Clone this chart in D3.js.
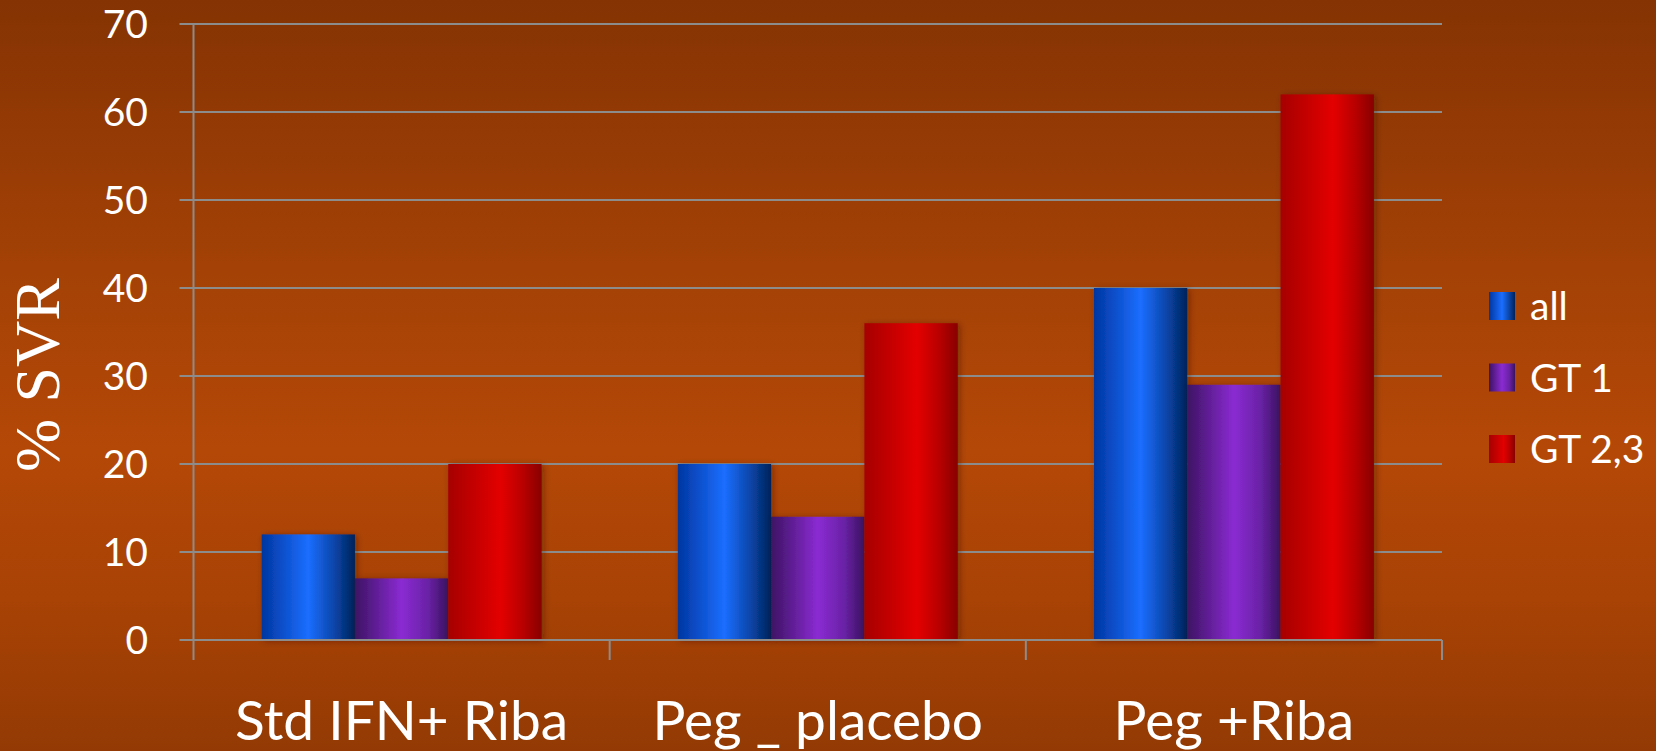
<!DOCTYPE html>
<html>
<head>
<meta charset="utf-8">
<script src="https://cdn.jsdelivr.net/npm/d3@7"></script>
<style>
  html, body { margin: 0; padding: 0; background: #a24305; }
  svg { display: block; }
</style>
</head>
<body>
<svg id="chart" width="1656" height="751"></svg>
<script>
// Sustained virological response by regimen and genotype
const categories = ["Std IFN+ Riba", "Peg _ placebo", "Peg +Riba"];
const seriesNames = ["all", "GT 1", "GT 2,3"];
const allValues = [12, 20, 40];
const gt1Values = [7, 14, 29];
const gt23Values = [20, 36, 62];
const yTicks = [0, 10, 20, 30, 40, 50, 60, 70];

const seriesValues = [allValues, gt1Values, gt23Values];
const data = categories.map((c, i) => ({
  category: c,
  values: seriesNames.map((s, j) => ({ series: s, value: seriesValues[j][i] }))
}));

const W = 1656, H = 751;
const plot = { left: 193.5, right: 1442, top: 24, bottom: 640 };
const labelFont = "Lato, 'Open Sans', sans-serif";

const svg = d3.select("#chart");
const defs = svg.append("defs");

// background: dark brown at top, burnt orange through the middle
const bg = defs.append("linearGradient").attr("id", "bgGrad")
  .attr("x1", 0).attr("y1", 0).attr("x2", 0).attr("y2", 1);
[[0, "#853303"], [0.35, "#a34106"], [0.6, "#b44807"], [0.8, "#a84205"], [1, "#933a04"]]
  .forEach(([o, c]) => bg.append("stop").attr("offset", o).attr("stop-color", c));

// cylindrical shading for each series
const barStops = {
  "all":    [[0, "#0036a0"], [0.5, "#1b6eff"], [0.78, "#0a45a8"], [1, "#00235a"]],
  "GT 1":   [[0, "#3d1362"], [0.5, "#8a2bd2"], [0.78, "#6a22a6"], [1, "#3a1260"]],
  "GT 2,3": [[0, "#a60000"], [0.56, "#e30000"], [0.8, "#b80000"], [1, "#880000"]]
};
seriesNames.forEach((s, i) => {
  const g = defs.append("linearGradient").attr("id", "barGrad" + i)
    .attr("x1", 0).attr("y1", 0).attr("x2", 1).attr("y2", 0);
  barStops[s].forEach(([o, c]) => g.append("stop").attr("offset", o).attr("stop-color", c));
});

const shadow = defs.append("filter").attr("id", "barShadow")
  .attr("x", "-20%").attr("y", "-10%").attr("width", "140%").attr("height", "120%");
shadow.append("feDropShadow").attr("dx", 2).attr("dy", 1).attr("stdDeviation", 3)
  .attr("flood-color", "#3a1200").attr("flood-opacity", 0.45);

svg.append("rect").attr("width", W).attr("height", H).attr("fill", "url(#bgGrad)");

// scales
const x0 = d3.scaleBand().domain(categories).range([plot.left, plot.right]).padding(0);
const x1 = d3.scaleBand().domain(seriesNames).range([0, x0.bandwidth()])
  .paddingInner(0).paddingOuter(0.73);
const y = d3.scaleLinear().domain([0, 70]).range([plot.bottom, plot.top]);

const gridColor = "#8c8c8c";

// horizontal gridlines with left tick stubs
svg.append("g")
  .selectAll("line").data(yTicks.filter(t => t > 0)).join("line")
  .attr("x1", plot.left - 14).attr("x2", plot.right)
  .attr("y1", d => y(d)).attr("y2", d => y(d))
  .attr("stroke", gridColor).attr("stroke-width", 2);

// bars
const groups = svg.append("g").selectAll("g").data(data).join("g")
  .attr("transform", d => `translate(${x0(d.category)},0)`);
groups.selectAll("rect").data(d => d.values).join("rect")
  .attr("x", d => x1(d.series))
  .attr("width", x1.bandwidth())
  .attr("y", d => y(d.value))
  .attr("height", d => y(0) - y(d.value))
  .attr("fill", d => "url(#barGrad" + seriesNames.indexOf(d.series) + ")")
  .attr("filter", "url(#barShadow)");

// y axis line and category axis with downward separators
const axisG = svg.append("g");
axisG.append("line")
  .attr("x1", plot.left).attr("x2", plot.left)
  .attr("y1", plot.top).attr("y2", plot.bottom + 20)
  .attr("stroke", gridColor).attr("stroke-width", 2);
axisG.append("line")
  .attr("x1", plot.left - 14).attr("x2", plot.right)
  .attr("y1", y(0)).attr("y2", y(0))
  .attr("stroke", gridColor).attr("stroke-width", 2);
axisG.selectAll("line.sep").data(categories).join("line").attr("class", "sep")
  .attr("x1", d => x0(d) + x0.bandwidth()).attr("x2", d => x0(d) + x0.bandwidth())
  .attr("y1", y(0)).attr("y2", y(0) + 20)
  .attr("stroke", gridColor).attr("stroke-width", 2);

// y tick labels
svg.append("g").selectAll("text").data(yTicks).join("text")
  .attr("x", 148).attr("y", d => y(d))
  .attr("dy", "0.36em")
  .attr("text-anchor", "end")
  .attr("fill", "#ffffff")
  .attr("font-family", labelFont).attr("font-size", 39)
  .text(d => d);

// category labels
svg.append("g").selectAll("text").data(categories).join("text")
  .attr("x", d => x0(d) + x0.bandwidth() / 2).attr("y", 740)
  .attr("text-anchor", "middle")
  .attr("fill", "#ffffff")
  .attr("font-family", labelFont).attr("font-size", 55)
  .text(d => d);

// y axis title
svg.append("text")
  .attr("transform", "translate(59,375) rotate(-90)")
  .attr("text-anchor", "middle")
  .attr("fill", "#ffffff")
  .attr("font-family", "'Liberation Serif', 'DejaVu Serif', serif")
  .attr("font-size", 64)
  .text("% SVR");

// legend
const legend = svg.append("g").selectAll("g").data(seriesNames).join("g")
  .attr("transform", (d, i) => `translate(1489,${306 + i * 71.5})`);
legend.append("rect")
  .attr("x", 0).attr("y", -14).attr("width", 26).attr("height", 28)
  .attr("fill", (d, i) => "url(#barGrad" + i + ")");
legend.append("text")
  .attr("x", 41).attr("y", 0).attr("dy", "0.36em")
  .attr("fill", "#ffffff")
  .attr("font-family", labelFont).attr("font-size", 39)
  .text(d => d);
</script>
</body>
</html>
